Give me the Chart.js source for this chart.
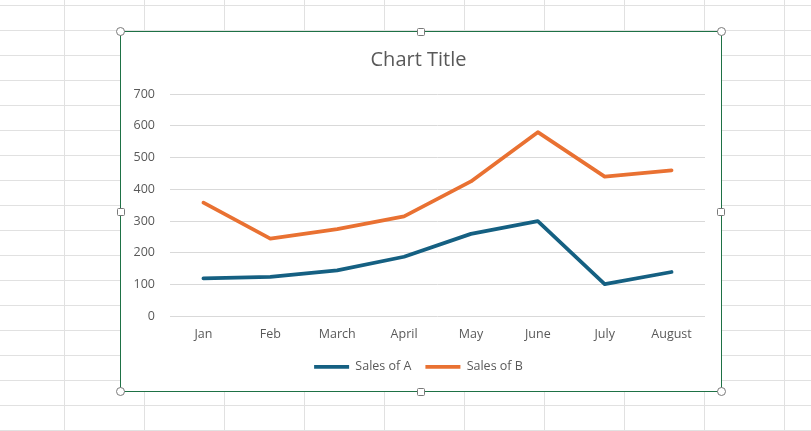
<!DOCTYPE html>
<html lang="en">
  <head>
    <meta charset="UTF-8" />
    <title>Sales chart</title>
    <script src="https://cdn.jsdelivr.net/npm/chart.js"></script>
    <style>
      body {
        margin: 0;
        width: 811px;
        height: 431px;
        overflow: hidden;
        background-color: #fff;
        /* excel sheet cells */
        background-image: linear-gradient(to right, #e1e1e1 1px, transparent 1px),
          linear-gradient(to bottom, #e1e1e1 1px, transparent 1px);
        background-size: 80px 25px;
        background-position: 64px 5px;
        position: relative;
      }
      .frame {
        position: absolute;
        left: 120px;
        top: 31px;
        width: 602px;
        height: 361px;
        box-sizing: border-box;
        border: 1px solid #1e7145;
        background: #fff;
      }
      .box {
        position: absolute;
        left: 121px;
        top: 32px;
        width: 600px;
        height: 359px;
      }
      .handle {
        position: absolute;
        width: 9px;
        height: 9px;
        box-sizing: border-box;
        border: 1.5px solid #7a7a7a;
        background: #fff;
      }
      .round { border-radius: 50%; }
      .sq { width: 8px; height: 8px; border-radius: 1.5px; }
    </style>
  </head>
  <body>
    <div class="frame"></div>
    <div class="box">
      <canvas id="myChart" width="600" height="359"></canvas>
    </div>

    <!-- alças de seleção -->
    <div class="handle round" style="left:116px;top:27px"></div>
    <div class="handle round" style="left:716.5px;top:27px"></div>
    <div class="handle round" style="left:116px;top:387px"></div>
    <div class="handle round" style="left:716.5px;top:387px"></div>
    <div class="handle sq" style="left:416.5px;top:27.5px"></div>
    <div class="handle sq" style="left:416.5px;top:387.5px"></div>
    <div class="handle sq" style="left:116.5px;top:207.5px"></div>
    <div class="handle sq" style="left:717px;top:207.5px"></div>

<script>
  var meses = ["Jan", "Feb", "March", "April", "May", "June", "July", "August"];
  var vendasA = [120, 125, 145, 188, 260, 300, 102, 140];
  var vendasB = [358, 245, 275, 315, 425, 580, 440, 460];
  var ticksY = [0, 100, 200, 300, 400, 500, 600, 700];

  var fonte = "'Open Sans', 'Liberation Sans', sans-serif";
  var cinza = "#595959";

  const ctx = document.getElementById("myChart");
  new Chart(ctx, {
    type: "line",
    data: {
      labels: meses,
      datasets: [
        {
          label: "Sales of A",
          data: vendasA,
          borderColor: "#156082",
          backgroundColor: "#156082",
          borderWidth: 3.75,
          borderCapStyle: "round",
          borderJoinStyle: "round",
          pointRadius: 0,
          tension: 0,
        },
        {
          label: "Sales of B",
          data: vendasB,
          borderColor: "#E97132",
          backgroundColor: "#E97132",
          borderWidth: 3.75,
          borderCapStyle: "round",
          borderJoinStyle: "round",
          pointRadius: 0,
          tension: 0,
        },
      ],
    },
    options: {
      responsive: false,
      animation: false,
      layout: { padding: { left: 11, right: 16, top: 0, bottom: 8 } },
      plugins: {
        title: {
          display: true,
          text: "Chart Title",
          color: cinza,
          font: { family: fonte, size: 20, weight: "normal" },
          padding: { top: 16, bottom: 22 },
        },
        legend: {
          position: "bottom",
          labels: {
            usePointStyle: true,
            pointStyle: "line",
            pointStyleWidth: 35,
            boxHeight: 4,
            padding: 14,
            color: cinza,
            font: { family: fonte, size: 12.5 },
          },
        },
        tooltip: { enabled: false },
      },
      scales: {
        x: {
          offset: true,
          grid: { display: false, drawTicks: false, offset: true },
          border: { display: false },
          ticks: { color: cinza, font: { family: fonte, size: 12.5 }, padding: 10 },
          afterFit: function (scale) {
            scale.height = 30;
          },
        },
        y: {
          min: ticksY[0],
          max: ticksY[ticksY.length - 1],
          grid: { color: "#d9d9d9", lineWidth: 1, drawTicks: false },
          border: { display: false },
          afterBuildTicks: function (scale) {
            scale.ticks = ticksY.map(function (v) { return { value: v }; });
          },
          ticks: { color: cinza, font: { family: fonte, size: 12.5 }, padding: 15 },
          afterFit: function (scale) {
            scale.width = 38;
          },
        },
      },
    },
  });
</script>
  </body>
</html>
